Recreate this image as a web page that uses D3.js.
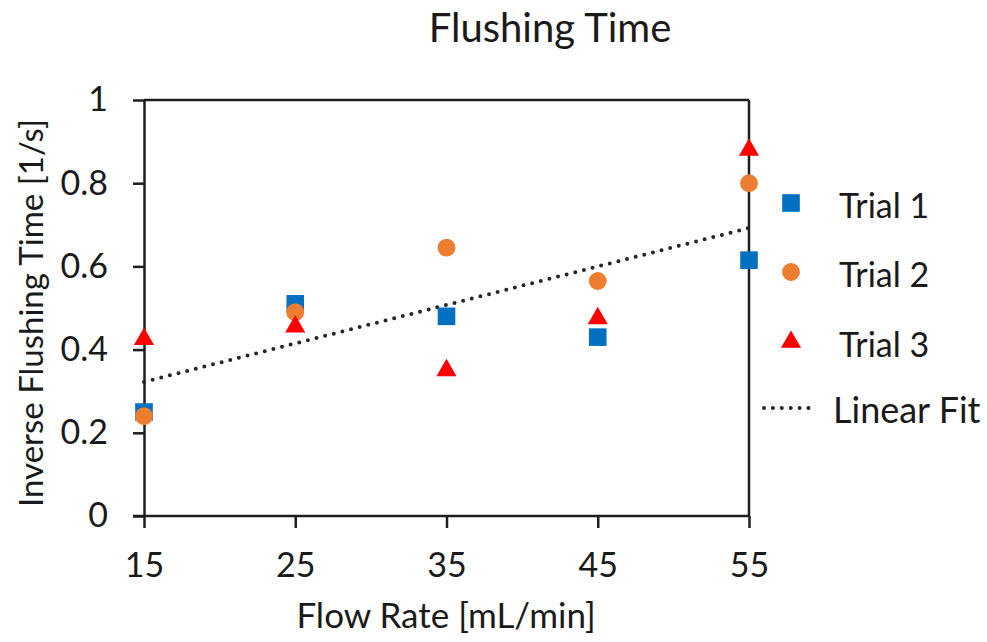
<!DOCTYPE html>
<html>
<head>
<meta charset="utf-8">
<script src="https://cdn.jsdelivr.net/npm/d3@7"></script>
<style>
  html, body { margin: 0; padding: 0; background: #fff; }
  svg { display: block; font-family: Lato, "Open Sans", sans-serif; }
</style>
</head>
<body>
<svg id="chart" width="987" height="642"></svg>
<script>
// Flow rates tested (mL/min)
const flowRates = [15, 25, 35, 45, 55];

// Inverse flushing time (1/s) for each trial
const trial1 = [0.25, 0.51, 0.48, 0.43, 0.615];
const trial2 = [0.24, 0.49, 0.645, 0.565, 0.80];
const trial3 = [0.425, 0.455, 0.35, 0.475, 0.88];

const seriesNames = ["Trial 1", "Trial 2", "Trial 3"];
const yTickValues = [0, 0.2, 0.4, 0.6, 0.8, 1];
const yTickLabels = ["0", "0.2", "0.4", "0.6", "0.8", "1"];
const xTickLabels = ["15", "25", "35", "45", "55"];

const series = [
  { name: seriesNames[0], values: trial1, color: "#0070C0", symbol: d3.symbolSquare, size: 310 },
  { name: seriesNames[1], values: trial2, color: "#ED7D31", symbol: d3.symbolCircle, size: 250 },
  { name: seriesNames[2], values: trial3, color: "#FF0000", symbol: d3.symbolTriangle, size: 175 }
];

const svg = d3.select("#chart");
const axisColor = "#1e1e1e";
const textColor = "#1a1a1a";

const x = d3.scaleLinear().domain([15, 55]).range([144, 749]);
const y = d3.scaleLinear().domain([0, 1]).range([516, 100]);

// Title
svg.append("text")
  .attr("x", 550).attr("y", 42)
  .attr("text-anchor", "middle")
  .attr("font-size", 40)
  .attr("fill", textColor)
  .text("Flushing Time");

// Plot frame: top and right edges
svg.append("line")
  .attr("x1", x(15)).attr("x2", x(55))
  .attr("y1", y(1)).attr("y2", y(1))
  .attr("stroke", axisColor).attr("stroke-width", 2.5);
svg.append("line")
  .attr("x1", x(55)).attr("x2", x(55))
  .attr("y1", y(1)).attr("y2", y(0))
  .attr("stroke", axisColor).attr("stroke-width", 2.5);

// Y axis
const yAxis = svg.append("g")
  .attr("transform", `translate(${x(15)},0)`)
  .call(d3.axisLeft(y)
    .tickValues(yTickValues)
    .tickFormat((d, i) => yTickLabels[i])
    .tickSizeInner(11).tickSizeOuter(0).tickPadding(25));

// X axis
const xAxis = svg.append("g")
  .attr("transform", `translate(0,${y(0)})`)
  .call(d3.axisBottom(x)
    .tickValues(flowRates)
    .tickFormat((d, i) => xTickLabels[i])
    .tickSizeInner(12).tickSizeOuter(0).tickPadding(25));

[yAxis, xAxis].forEach(g => {
  g.select(".domain").attr("stroke", axisColor).attr("stroke-width", 2.5);
  g.selectAll(".tick line").attr("stroke", axisColor).attr("stroke-width", 2.5);
  g.selectAll(".tick text").attr("font-size", 34).attr("fill", textColor)
    .attr("font-family", "Lato, 'Open Sans', sans-serif");
});
// bottom axis line reaches out to the y tick at zero
xAxis.select(".domain").attr("d", `M${x(15) - 11},0H${x(55)}`);

// Axis titles
svg.append("text")
  .attr("x", 446).attr("y", 628)
  .attr("text-anchor", "middle")
  .attr("font-size", 35)
  .attr("fill", textColor)
  .text("Flow Rate [mL/min]");

svg.append("text")
  .attr("transform", `translate(43,${(y(0) + 110) / 2}) rotate(-90)`)
  .attr("text-anchor", "middle")
  .attr("font-size", 33)
  .attr("fill", textColor)
  .text("Inverse Flushing Time [1/s]");

// Linear least-squares fit through all trials
const allPts = [];
series.forEach(s => s.values.forEach((v, i) => allPts.push([flowRates[i], v])));
const mx = d3.mean(allPts, d => d[0]);
const my = d3.mean(allPts, d => d[1]);
const slope = d3.sum(allPts, d => (d[0] - mx) * (d[1] - my)) / d3.sum(allPts, d => (d[0] - mx) ** 2);
const intercept = my - slope * mx;
const fit = xv => intercept + slope * xv;

svg.append("line")
  .attr("x1", x(15)).attr("y1", y(fit(15)))
  .attr("x2", x(55)).attr("y2", y(fit(55)))
  .attr("stroke", "#262626")
  .attr("stroke-width", 4)
  .attr("stroke-linecap", "round")
  .attr("stroke-dasharray", "0 8.9");

// Data markers
series.forEach(s => {
  svg.append("g").selectAll("path")
    .data(s.values)
    .join("path")
    .attr("transform", (d, i) => `translate(${x(flowRates[i])},${y(d)})`)
    .attr("d", d3.symbol().type(s.symbol).size(s.size))
    .attr("fill", s.color);
});

// Legend
const legendRows = [203, 272, 342];
series.forEach((s, i) => {
  svg.append("path")
    .attr("transform", `translate(791,${legendRows[i]})`)
    .attr("d", d3.symbol().type(s.symbol).size(s.size))
    .attr("fill", s.color);
  svg.append("text")
    .attr("x", 839).attr("y", legendRows[i] + 15)
    .attr("font-size", 34)
    .attr("fill", textColor)
    .text(s.name);
});
svg.append("line")
  .attr("x1", 764).attr("x2", 817)
  .attr("y1", 408).attr("y2", 408)
  .attr("stroke", "#262626")
  .attr("stroke-width", 4)
  .attr("stroke-linecap", "round")
  .attr("stroke-dasharray", "0 8.9");
svg.append("text")
  .attr("x", 833).attr("y", 423)
  .attr("font-size", 36)
  .attr("fill", textColor)
  .text("Linear Fit");
</script>
</body>
</html>
